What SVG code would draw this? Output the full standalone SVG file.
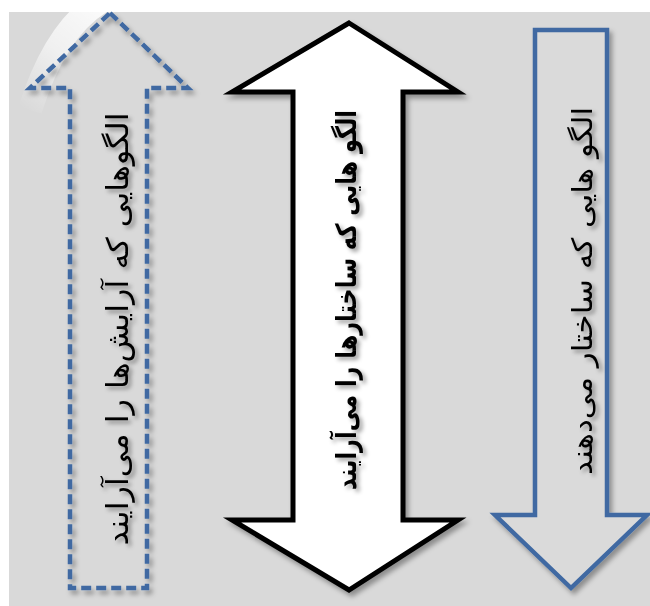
<svg xmlns="http://www.w3.org/2000/svg" width="650" height="606" viewBox="0 0 650 606">
<style>
.lbl{font-family:"DejaVu Sans","Noto Sans",sans-serif;fill:#000;text-anchor:middle;dominant-baseline:central}
.blue{stroke:#3F69A2;stroke-width:4.5;stroke-linejoin:miter}
</style>
<defs>
<filter id="sh" x="-20%" y="-20%" width="140%" height="140%">
<feDropShadow dx="3" dy="4" stdDeviation="2.5" flood-color="#000" flood-opacity="0.35"/>
</filter>
<filter id="tsh" x="-30%" y="-30%" width="160%" height="160%">
<feDropShadow dx="3" dy="3" stdDeviation="2" flood-color="#000" flood-opacity="0.4"/>
</filter>
<linearGradient id="wm" gradientUnits="userSpaceOnUse" x1="105" y1="5" x2="25" y2="110">
<stop offset="0" stop-color="#FFFFFF" stop-opacity="0.9"/>
<stop offset="0.5" stop-color="#FFFFFF" stop-opacity="0.6"/>
<stop offset="1" stop-color="#FFFFFF" stop-opacity="0"/>
</linearGradient>
</defs>
<rect x="0" y="0" width="650" height="606" fill="#FFFFFF"/>
<rect x="9" y="12" width="641" height="594" fill="#D9D9D9"/>
<path d="M100 2 Q55 30 30 110" fill="none" stroke="url(#wm)" stroke-width="24"/>
<g id="connectors"/>
<g id="node-left">
<path d="M110 13 L188 88 L147 88 L147 588 L70 588 L70 88 L30 88 Z" fill="none" class="blue" stroke-dasharray="10 5" filter="url(#sh)"/>
<g filter="url(#tsh)"><text class="lbl" font-size="30" transform="translate(117 329) rotate(-90)" textLength="433" lengthAdjust="spacingAndGlyphs">الگوهایی که آرایش‌ها را می‌آرایند</text></g>
</g>
<g id="node-middle">
<path d="M349 23 L458 92 L403 92 L403 520 L458 520 L349 590 L232 520 L293 520 L293 92 L232 92 Z" fill="#FFFFFF" stroke="#000" stroke-width="5" filter="url(#sh)"/>
<g filter="url(#tsh)"><text class="lbl" font-size="28" font-weight="bold" transform="translate(346 300) rotate(-90)" textLength="380" lengthAdjust="spacingAndGlyphs">الگو هایی که ساختارها را می‌آرایند</text></g>
</g>
<g id="node-right">
<path d="M535 30 L607 30 L607 515 L647 515 L571 588 L495 515 L535 515 Z" fill="#DADADA" class="blue" filter="url(#sh)"/>
<g filter="url(#tsh)"><text class="lbl" font-size="28" transform="translate(582 291) rotate(-90)" textLength="368" lengthAdjust="spacingAndGlyphs">الگو هایی که ساختار می‌دهند</text></g>
</g>
</svg>
